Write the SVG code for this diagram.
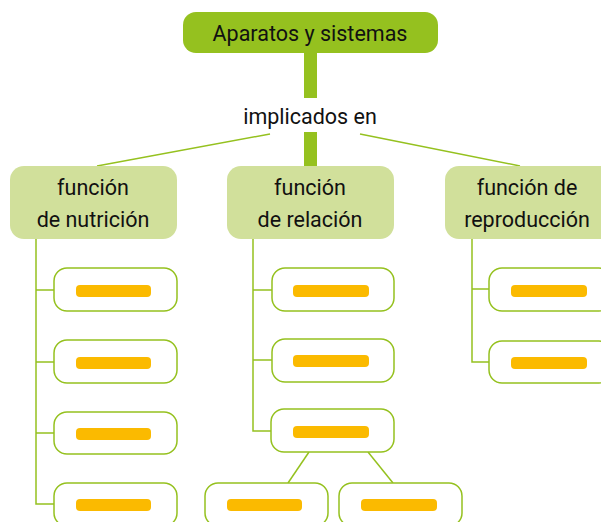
<svg xmlns="http://www.w3.org/2000/svg" width="601" height="522" viewBox="0 0 601 522">
<style>
.t{font-family:Roboto,"Liberation Sans",sans-serif;font-size:21.5px;fill:#111;text-anchor:middle}
.ln{fill:none;stroke:#95C11F;stroke-width:1.5}
.l1{fill:#D1E09B}
.leaf{fill:#fff;stroke:#95C11F;stroke-width:1.5}
.bar{fill:#FBBA00}
</style>
<rect width="601" height="522" fill="#fff"/>
<g id="connectors">
<rect x="304" y="53" width="13" height="45" fill="#95C11F"/>
<rect x="304" y="132" width="13" height="35" fill="#95C11F"/>
<line class="ln" x1="270" y1="134" x2="97" y2="166"/>
<line class="ln" x1="360" y1="134" x2="520" y2="166"/>
<polyline class="ln" points="36,239 36,504 54,504"/>
<line class="ln" x1="36" y1="290" x2="54" y2="290"/>
<line class="ln" x1="36" y1="362" x2="54" y2="362"/>
<line class="ln" x1="36" y1="433" x2="54" y2="433"/>
<polyline class="ln" points="253,239 253,431 272,431"/>
<line class="ln" x1="253" y1="290" x2="272" y2="290"/>
<line class="ln" x1="253" y1="360" x2="272" y2="360"/>
<line class="ln" x1="309" y1="452" x2="288" y2="483"/>
<line class="ln" x1="368" y1="452" x2="393" y2="483"/>
<polyline class="ln" points="472,239 472,362 489,362"/>
<line class="ln" x1="472" y1="289" x2="489" y2="289"/>
</g>
<g id="root">
<rect x="183" y="12" width="255" height="41" rx="13" fill="#95C11F"/>
<text class="t" x="310" y="41">Aparatos y sistemas</text>
</g>
<g id="label">
<text class="t" x="310" y="124">implicados en</text>
</g>
<g id="nutricion">
<rect class="l1" x="10" y="166" width="167" height="73" rx="14"/>
<text class="t" x="93" y="195">función</text>
<text class="t" x="93" y="227">de nutrición</text>
</g>
<g id="relacion">
<rect class="l1" x="227" y="166" width="167" height="73" rx="14"/>
<text class="t" x="310" y="195">función</text>
<text class="t" x="310" y="227">de relación</text>
</g>
<g id="reproduccion">
<rect class="l1" x="445" y="166" width="170" height="73" rx="14"/>
<text class="t" x="527" y="195">función de</text>
<text class="t" x="527" y="227">reproducción</text>
</g>
<g id="n1"><rect class="leaf" x="54" y="268" width="123" height="43" rx="13"/><rect class="bar" x="76" y="285" width="75" height="12" rx="4"/></g>
<g id="n2"><rect class="leaf" x="54" y="340" width="123" height="43" rx="13"/><rect class="bar" x="76" y="357" width="75" height="12" rx="4"/></g>
<g id="n3"><rect class="leaf" x="54" y="412" width="123" height="42" rx="13"/><rect class="bar" x="76" y="428" width="75" height="12" rx="4"/></g>
<g id="n4"><rect class="leaf" x="54" y="483" width="123" height="43" rx="13"/><rect class="bar" x="76" y="499" width="75" height="12" rx="4"/></g>
<g id="r1"><rect class="leaf" x="272" y="268" width="122" height="43" rx="13"/><rect class="bar" x="293" y="285" width="76" height="12" rx="4"/></g>
<g id="r2"><rect class="leaf" x="272" y="339" width="122" height="43" rx="13"/><rect class="bar" x="293" y="355" width="76" height="12" rx="4"/></g>
<g id="r3"><rect class="leaf" x="271" y="409" width="123" height="43" rx="13"/><rect class="bar" x="293" y="426" width="76" height="12" rx="4"/></g>
<g id="r3a"><rect class="leaf" x="205" y="483" width="123" height="43" rx="13"/><rect class="bar" x="227" y="499" width="75" height="12" rx="4"/></g>
<g id="r3b"><rect class="leaf" x="339" y="483" width="123" height="43" rx="13"/><rect class="bar" x="361" y="499" width="76" height="12" rx="4"/></g>
<g id="p1"><rect class="leaf" x="489" y="268" width="123" height="43" rx="13"/><rect class="bar" x="511" y="285" width="76" height="12" rx="4"/></g>
<g id="p2"><rect class="leaf" x="489" y="341" width="123" height="42" rx="13"/><rect class="bar" x="511" y="357" width="76" height="12" rx="4"/></g>
</svg>
